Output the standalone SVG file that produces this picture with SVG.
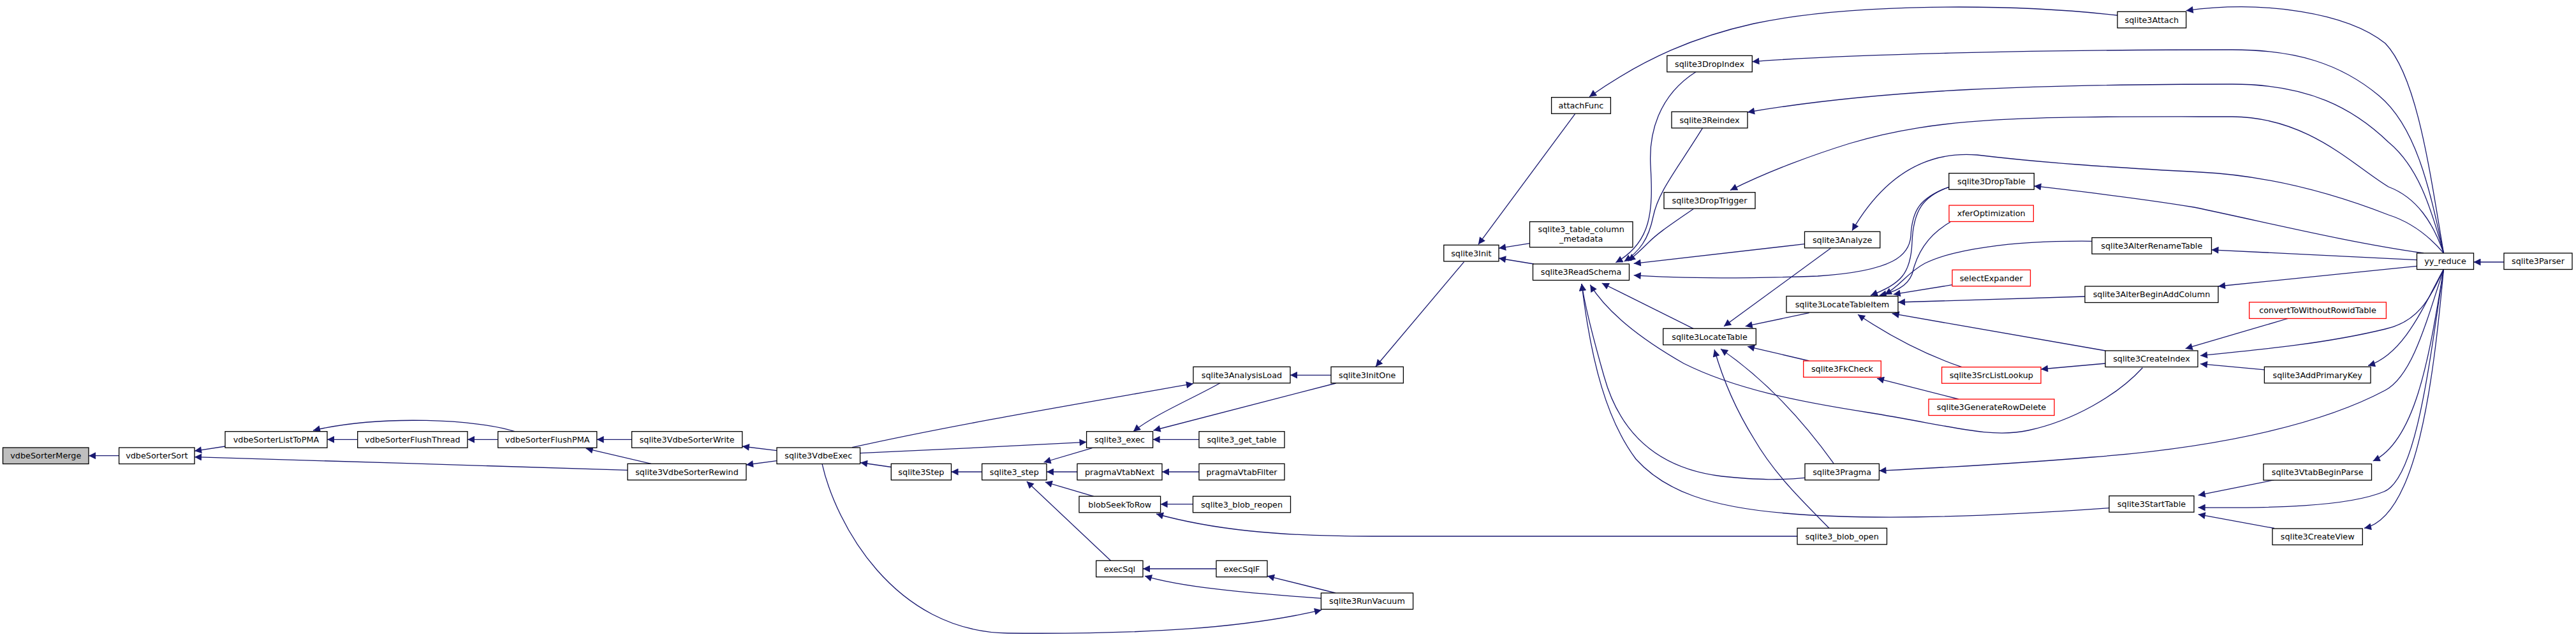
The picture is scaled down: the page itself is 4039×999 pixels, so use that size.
<svg xmlns="http://www.w3.org/2000/svg" width="4039" height="999" viewBox="0 0 4039 999">
<defs>
<marker id="ah" viewBox="0 0 10 10" refX="10" refY="5" markerUnits="userSpaceOnUse" markerWidth="13" markerHeight="11" orient="auto">
<path d="M0,0 L10,5 L0,10 z" fill="#191970"/>
</marker>
</defs>
<style>
.n rect{fill:#fff;stroke:#000;stroke-width:1.3}
.n.red rect{stroke:#ff0000}
.n.root rect{fill:#bfbfbf}
.n text{font-family:"DejaVu Sans",sans-serif;font-size:12.8px;text-anchor:middle;fill:#000}
#edges path{fill:none;stroke:#191970;stroke-width:1.3;marker-end:url(#ah)}
</style>
<rect width="4039" height="999" fill="#fff"/>
<g id="edges">
<path d="M186.6,714.7 L139,714.7"/>
<path d="M353,700 L305,707.3"/>
<path d="M984,737.3 C800,732 500,722 305,716.7"/>
<path d="M560.7,689.3 L513,689.3"/>
<path d="M807,676.7 C750,658 600,650 491,675"/>
<path d="M780.8,689.3 L733,689.3"/>
<path d="M990.6,689.3 L935.7,689.3"/>
<path d="M1021,727.3 L918.7,703.3"/>
<path d="M1218,706.7 L1163.8,700"/>
<path d="M1218,722.7 L1170,729"/>
<path d="M1336,701.7 C1500,665 1700,632 1871,601.7"/>
<path d="M1348.6,710.7 C1450,706 1600,699 1703.6,693.3"/>
<path d="M1397.3,732.5 L1349,725.5"/>
<path d="M1289,727.3 C1310,820 1400,990 1580,993 C1800,995 1950,985 2072,956.7"/>
<path d="M2087,588.3 L2023,588.3"/>
<path d="M1913,600.7 C1870,625 1810,650 1777,676.7"/>
<path d="M2094.6,601 L1808.5,675"/>
<path d="M1880,689.3 L1807.6,689.3"/>
<path d="M1539.7,740 L1491.5,740"/>
<path d="M1712.5,702.7 L1636.6,725"/>
<path d="M1689,740 L1641,740"/>
<path d="M1880,740 L1822,740"/>
<path d="M1714.7,778.3 L1638.8,756"/>
<path d="M1870.5,790.7 L1819.6,790.7"/>
<path d="M2818,841 L2150,841 C2000,841 1900,830 1813,806"/>
<path d="M1741.5,879.3 L1609.8,755"/>
<path d="M1907,892 L1792,892"/>
<path d="M2094,930 L1987,903.3"/>
<path d="M2072,938.3 C1950,930 1850,920 1795,903.3"/>
<path d="M2295.5,410.7 L2157,575"/>
<path d="M2469.6,178.7 L2317.9,383.3"/>
<path d="M2398.7,381.7 L2350,389.3"/>
<path d="M2405,414 L2350,405"/>
<path d="M3320,24 C3150,5 2900,5 2750,37 C2660,57 2580,90 2492,151.7"/>
<path d="M2659,112.7 C2600,150 2585,210 2588,260 C2592,330 2590,380 2533.3,411.7"/>
<path d="M2669.6,200.7 C2630,265 2600,300 2592,340 C2585,375 2570,395 2546.7,410"/>
<path d="M2655,327.7 C2620,352 2600,365 2585,380 C2570,395 2562,402 2553,409.3"/>
<path d="M2829.5,382.7 L2561.7,413.3"/>
<path d="M3055.8,293.3 C3010,310 2998,330 2996,370 C2994,400 2970,425 2850,433 C2700,438 2620,436 2561.7,431.7"/>
<path d="M2655,515.3 L2511.7,444"/>
<path d="M3359.4,576.7 C3320,620 3250,660 3180,675 C3120,688 3060,668 2930,647 C2820,630 2720,610 2640,570 C2570,530 2520,490 2493.3,446.7"/>
<path d="M2830,749.3 C2790,753 2760,753 2700,747 C2600,735 2540,680 2515,590 C2495,520 2485,480 2480,445"/>
<path d="M3307,796.7 C3150,808 2950,818 2800,805 C2680,795 2610,770 2565,720 C2520,660 2495,570 2480,445"/>
<path d="M2870.5,389.3 L2703,511.7"/>
<path d="M2836.7,490.7 L2736.7,511.7"/>
<path d="M2836.7,566 L2740,543.3"/>
<path d="M2875,726.7 C2820,650 2760,590 2698,547.3"/>
<path d="M2868,828.3 C2820,780 2780,740 2750,688 C2720,640 2700,590 2688,548.3"/>
<path d="M3831.5,397 C3810,270 3790,120 3740,68 C3680,20 3550,0 3427.7,16.7"/>
<path d="M3831.5,397 C3810,300 3790,200 3730,150 C3670,100 3600,78 3500,78 C3200,78 2900,85 2747.3,96.7"/>
<path d="M3831.5,397 C3810,320 3790,260 3745,223 C3690,170 3620,132 3500,132 C3200,132 2950,140 2740,176"/>
<path d="M3831.5,397 C3815,350 3790,310 3745,293 C3690,260 3620,184 3500,183 C3200,183 3050,180 2900,225 C2820,250 2760,275 2713,298.3"/>
<path d="M3831.5,397 C3800,360 3770,345 3745,337 C3650,300 3550,275 3450,270 C3300,262 3200,255 3100,243 C3000,235 2940,300 2904,361.7"/>
<path d="M3800,397 C3680,380 3560,350 3440,325 C3350,310 3260,300 3189.3,291.7"/>
<path d="M3789.5,407.7 L3467.5,391.8"/>
<path d="M3789.5,417.3 L3478,449"/>
<path d="M3926,411 L3878.5,411"/>
<path d="M3831.5,422 C3810,470 3790,505 3740,516 C3650,538 3550,548 3450,557.7"/>
<path d="M3831.5,422 C3800,480 3770,555 3713,573.4"/>
<path d="M3550.4,579.8 L3450,570.7"/>
<path d="M3589,499 L3426.7,546.7"/>
<path d="M3831.5,422 C3800,520 3780,590 3740,612 C3650,660 3500,700 3280,717 C3150,728 3050,733 2946.4,738.3"/>
<path d="M3831.5,422 C3810,550 3790,690 3720.7,723"/>
<path d="M3831.5,422 C3810,560 3790,750 3738,771 C3680,795 3560,797 3446.7,796"/>
<path d="M3831.5,422 C3815,600 3790,810 3707,828.3"/>
<path d="M3566,752.7 L3446.7,776.7"/>
<path d="M3566,828.5 L3446.7,806.7"/>
<path d="M3076,575.7 C3030,560 2975,535 2913,493.3"/>
<path d="M3301,550 L2966.7,491.7"/>
<path d="M3301,570 L3200,579"/>
<path d="M3071,626 L2943,593.3"/>
<path d="M3055.8,293.3 C3015,308 3000,330 2998,380 C2996,430 2980,445 2933,463.3"/>
<path d="M3058,348.3 C3020,370 3005,400 2998,430 C2990,450 2970,458 2946.7,463.3"/>
<path d="M3280,378.3 C3150,377 3060,392 3018,413 C2990,428 2980,448 2955,462"/>
<path d="M3061,446.7 L2968.7,461.7"/>
<path d="M3269,465 L2976,474"/>
</g>
<g id="n1" class="n root"><rect x="4.5" y="702" width="134.5" height="25.5"/><text x="71.8" y="719.2">vdbeSorterMerge</text></g>
<g id="n2" class="n"><rect x="186.6" y="702" width="118.4" height="25.5"/><text x="245.8" y="719.2">vdbeSorterSort</text></g>
<g id="n3" class="n"><rect x="353" y="676.7" width="160" height="25.5"/><text x="433" y="693.9">vdbeSorterListToPMA</text></g>
<g id="n4" class="n"><rect x="560.7" y="676.7" width="172.3" height="25.5"/><text x="646.9" y="693.9">vdbeSorterFlushThread</text></g>
<g id="n5" class="n"><rect x="780.8" y="676.7" width="155" height="25.5"/><text x="858.3" y="693.9">vdbeSorterFlushPMA</text></g>
<g id="n6" class="n"><rect x="990.6" y="676.7" width="173.2" height="25.5"/><text x="1077.2" y="693.9">sqlite3VdbeSorterWrite</text></g>
<g id="n7" class="n"><rect x="984" y="727.3" width="186" height="25.5"/><text x="1077" y="744.5">sqlite3VdbeSorterRewind</text></g>
<g id="n8" class="n"><rect x="1218" y="702" width="130.6" height="25.5"/><text x="1283.3" y="719.2">sqlite3VdbeExec</text></g>
<g id="n9" class="n"><rect x="1871" y="575.3" width="152" height="25.5"/><text x="1947" y="592.5">sqlite3AnalysisLoad</text></g>
<g id="n10" class="n"><rect x="1703.6" y="676.7" width="104" height="25.5"/><text x="1755.6" y="693.9">sqlite3_exec</text></g>
<g id="n11" class="n"><rect x="1880" y="676.7" width="134" height="25.5"/><text x="1947" y="693.9">sqlite3_get_table</text></g>
<g id="n12" class="n"><rect x="1397.3" y="727.3" width="94.2" height="25.5"/><text x="1444.4" y="744.5">sqlite3Step</text></g>
<g id="n13" class="n"><rect x="1539.7" y="727.3" width="101.3" height="25.5"/><text x="1590.3" y="744.5">sqlite3_step</text></g>
<g id="n14" class="n"><rect x="1689" y="727.3" width="133" height="25.5"/><text x="1755.5" y="744.5">pragmaVtabNext</text></g>
<g id="n15" class="n"><rect x="1880" y="727.3" width="134" height="25.5"/><text x="1947" y="744.5">pragmaVtabFilter</text></g>
<g id="n16" class="n"><rect x="1692" y="778.3" width="127.6" height="25.5"/><text x="1755.8" y="795.5">blobSeekToRow</text></g>
<g id="n17" class="n"><rect x="1870.5" y="778.3" width="153" height="25.5"/><text x="1947" y="795.5">sqlite3_blob_reopen</text></g>
<g id="n18" class="n"><rect x="1718.7" y="879.3" width="73.3" height="25.5"/><text x="1755.4" y="896.5">execSql</text></g>
<g id="n19" class="n"><rect x="1907" y="879.3" width="80" height="25.5"/><text x="1947" y="896.5">execSqlF</text></g>
<g id="n20" class="n"><rect x="2071.4" y="930" width="144.2" height="25.5"/><text x="2143.5" y="947.2">sqlite3RunVacuum</text></g>
<g id="n21" class="n"><rect x="2087" y="575.3" width="113.4" height="25.5"/><text x="2143.7" y="592.5">sqlite3InitOne</text></g>
<g id="n22" class="n"><rect x="2263.8" y="384.3" width="86.2" height="25.5"/><text x="2306.9" y="401.5">sqlite3Init</text></g>
<g id="n23" class="n"><rect x="2432.6" y="152.7" width="92.8" height="25.5"/><text x="2479" y="169.9">attachFunc</text></g>
<g id="n24" class="n"><rect x="2398.5" y="347.7" width="161.5" height="40"/><text x="2479.2" y="363.8">sqlite3_table_column</text><text x="2479.2" y="378.8">_metadata</text></g>
<g id="n25" class="n"><rect x="2403.5" y="414" width="151" height="25.5"/><text x="2479" y="431.2">sqlite3ReadSchema</text></g>
<g id="n26" class="n"><rect x="2613.8" y="87.3" width="133.5" height="25.5"/><text x="2680.5" y="104.5">sqlite3DropIndex</text></g>
<g id="n27" class="n"><rect x="2621" y="175.3" width="119" height="25.5"/><text x="2680.5" y="192.5">sqlite3Reindex</text></g>
<g id="n28" class="n"><rect x="2609" y="301.7" width="143" height="25.5"/><text x="2680.5" y="318.9">sqlite3DropTrigger</text></g>
<g id="n29" class="n"><rect x="2607.7" y="515.3" width="145.6" height="25.5"/><text x="2680.5" y="532.5">sqlite3LocateTable</text></g>
<g id="n30" class="n"><rect x="3320" y="18.3" width="107.7" height="25.5"/><text x="3373.8" y="35.5">sqlite3Attach</text></g>
<g id="n31" class="n"><rect x="3055.8" y="271.7" width="133.5" height="25.5"/><text x="3122.5" y="288.9">sqlite3DropTable</text></g>
<g id="n32" class="n red"><rect x="3056" y="322" width="132.4" height="25.5"/><text x="3122.2" y="339.2">xferOptimization</text></g>
<g id="n33" class="n"><rect x="2829.5" y="363.3" width="118.3" height="25.5"/><text x="2888.6" y="380.5">sqlite3Analyze</text></g>
<g id="n34" class="n"><rect x="3280" y="372.7" width="187.5" height="25.5"/><text x="3373.8" y="389.9">sqlite3AlterRenameTable</text></g>
<g id="n35" class="n red"><rect x="3061" y="423.3" width="122.5" height="25.5"/><text x="3122.2" y="440.5">selectExpander</text></g>
<g id="n36" class="n"><rect x="3269" y="449" width="209" height="25.5"/><text x="3373.5" y="466.2">sqlite3AlterBeginAddColumn</text></g>
<g id="n37" class="n"><rect x="2801" y="464.5" width="175" height="25.5"/><text x="2888.5" y="481.7">sqlite3LocateTableItem</text></g>
<g id="n38" class="n red"><rect x="2827.7" y="566" width="121.6" height="25.5"/><text x="2888.5" y="583.2">sqlite3FkCheck</text></g>
<g id="n39" class="n red"><rect x="3044.6" y="575.7" width="155.4" height="25.5"/><text x="3122.3" y="592.9">sqlite3SrcListLookup</text></g>
<g id="n40" class="n red"><rect x="3024" y="626" width="197" height="25.5"/><text x="3122.5" y="643.2">sqlite3GenerateRowDelete</text></g>
<g id="n41" class="n"><rect x="3301" y="550" width="145" height="25.5"/><text x="3373.5" y="567.2">sqlite3CreateIndex</text></g>
<g id="n42" class="n"><rect x="2830" y="727.3" width="116.4" height="25.5"/><text x="2888.2" y="744.5">sqlite3Pragma</text></g>
<g id="n43" class="n"><rect x="3307" y="777.7" width="133" height="25.5"/><text x="3373.5" y="794.9">sqlite3StartTable</text></g>
<g id="n44" class="n"><rect x="2818" y="828.3" width="140.5" height="25.5"/><text x="2888.2" y="845.5">sqlite3_blob_open</text></g>
<g id="n45" class="n"><rect x="3789.5" y="397" width="89" height="25.5"/><text x="3834" y="414.2">yy_reduce</text></g>
<g id="n46" class="n"><rect x="3926" y="397" width="107" height="25.5"/><text x="3979.5" y="414.2">sqlite3Parser</text></g>
<g id="n47" class="n red"><rect x="3526.7" y="474" width="214.7" height="25.5"/><text x="3634" y="491.2">convertToWithoutRowidTable</text></g>
<g id="n48" class="n"><rect x="3550.4" y="575.3" width="166.6" height="25.5"/><text x="3633.7" y="592.5">sqlite3AddPrimaryKey</text></g>
<g id="n49" class="n"><rect x="3549" y="727.6" width="169.5" height="25.5"/><text x="3633.7" y="744.8">sqlite3VtabBeginParse</text></g>
<g id="n50" class="n"><rect x="3563" y="829" width="141.3" height="25.5"/><text x="3633.7" y="846.2">sqlite3CreateView</text></g>
</svg>
